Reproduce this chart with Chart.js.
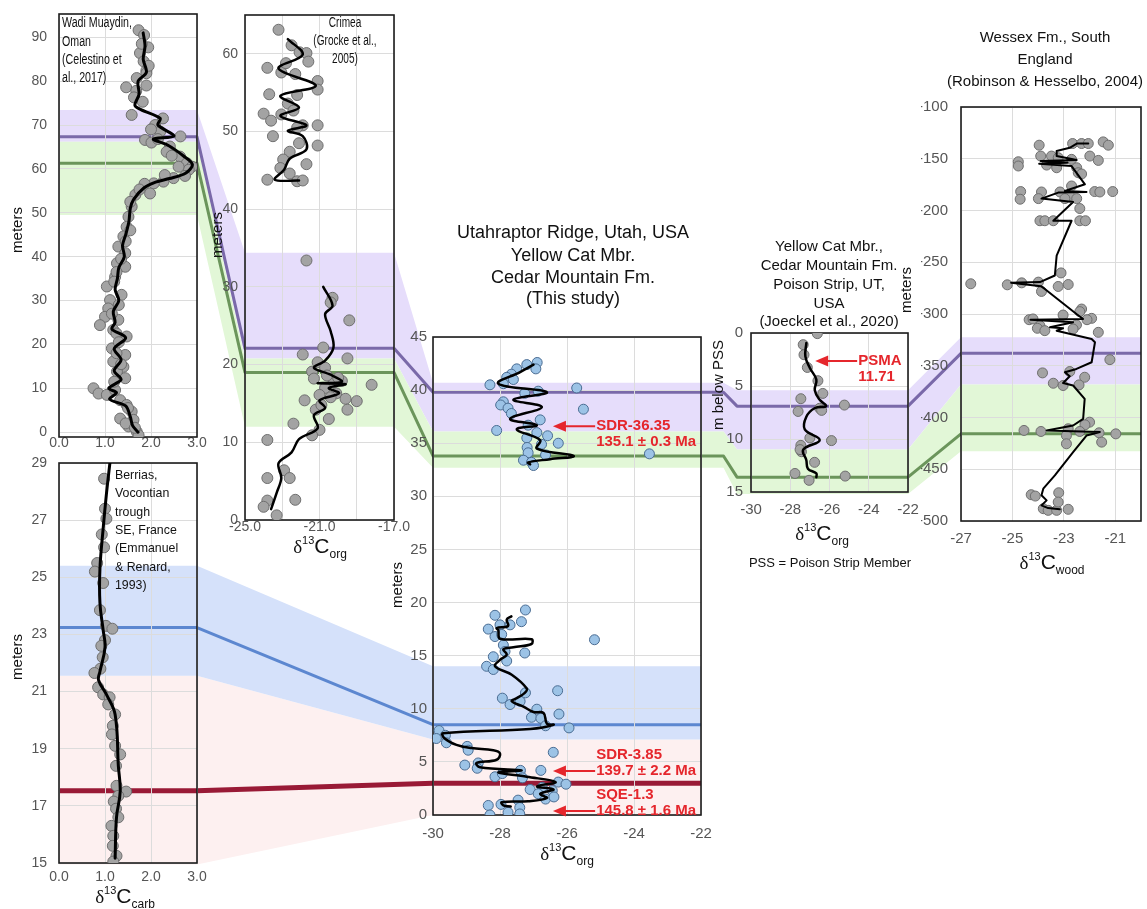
<!DOCTYPE html>
<html><head><meta charset="utf-8">
<script src="https://cdn.jsdelivr.net/npm/chart.js@4.4.1/dist/chart.umd.min.js"></script>
<style>
html,body{margin:0;padding:0;background:#fff;}
#wrap{position:relative;width:1147px;height:909px;overflow:hidden;background:#fff;}
#wrap canvas{position:absolute;left:0;top:0;}
</style></head><body><div id="wrap"></div>
<script>
// ================= DATA =================
// --- Wadi Muaydin, Oman (d13C carb vs meters) ---
const omanPoints = [[1.73,91.6],[1.85,90.5],[1.94,87.7],[1.76,86.4],[1.84,84.5],[1.90,82.4],[1.69,80.7],[1.90,81.8],[1.46,78.6],[1.68,77.8],[1.63,76.3],[1.82,75.3],[1.58,72.3],[2.26,71.5],[2.09,70.0],[2.20,68.5],[2.64,67.4],[1.87,66.6],[2.01,66.0],[2.41,65.1],[2.34,63.9],[2.63,62.8],[2.78,61.3],[2.89,60.5],[2.82,59.8],[2.74,58.4],[2.49,57.9],[2.27,57.1],[2.06,56.7],[1.86,56.6],[1.98,54.4],[1.66,54.1],[1.58,51.4],[1.51,49.1],[1.47,46.8],[1.40,44.6],[1.29,42.3],[1.44,40.8],[1.26,38.5],[1.44,37.7],[1.22,35.4],[1.04,33.2],[1.36,31.3],[1.11,30.1],[1.07,28.2],[1.00,26.3],[1.29,25.6],[0.89,24.4],[1.18,23.3],[1.47,21.8],[1.15,19.1],[1.44,17.6],[1.18,16.1],[1.40,14.9],[1.26,13.8],[1.44,12.3],[0.75,10.0],[0.86,8.8],[1.04,8.5],[1.22,9.6],[1.33,7.3],[1.47,6.2],[1.58,4.7],[1.33,3.1],[1.62,2.8],[1.51,1.3],[1.69,0.1],[1.73,-0.7],[1.55,46.0],[1.45,43.5],[1.35,39.5],[1.25,36.5],[1.2,34.3],[1.3,29.0],[1.15,27.0],[1.25,22.5],[1.3,20.5],[1.25,18.0],[1.35,15.5],[1.2,11.5],[1.5,5.5],[1.45,2.0],[1.65,1.0],[1.95,83.5],[1.8,88.5],[1.9,79.0],[2.45,63.0],[2.6,60.5],[2.3,58.6],[1.75,55.3],[1.55,52.5],[2.0,69.0],[2.15,66.8]];
const omanCurve = [[1.72,0],[1.6,1.5],[1.55,3.5],[1.45,6],[1.1,7.5],[1.25,9],[1.08,10],[1.35,12],[1.2,14],[1.35,16.5],[1.2,19],[1.45,21.5],[1.15,23.5],[1.22,25],[1.18,27.5],[1.3,30],[1.22,32.5],[1.27,35],[1.3,37.5],[1.42,40],[1.38,42.5],[1.45,45],[1.52,48],[1.55,51],[1.62,53],[1.85,55.7],[2.1,57],[2.4,57.8],[2.75,59],[2.9,61],[2.7,63],[2.35,65.5],[2.05,66.8],[2.5,67.5],[2.15,70],[2.2,71.5],[1.78,73.5],[1.65,74.5],[1.74,77],[1.72,80],[1.9,82],[1.83,85],[1.87,88],[1.83,91]];
const omanXTicks = [0,1,2,3];
const omanXLabels = ['0.0','1.0','2.0','3.0'];
const omanYTicks = [0,10,20,30,40,50,60,70,80,90];

// --- Crimea (d13C org) ---
const crimeaPoints = [[-23.2,63.1],[-22.5,61.1],[-22.07,60.2],[-21.7,60.1],[-23.8,58.2],[-23.05,57.6],[-22.3,57.4],[-21.1,56.5],[-21.1,55.4],[-23.7,54.8],[-22.2,54.7],[-22.7,53.6],[-22.4,52.7],[-24.0,52.3],[-23.05,52.2],[-23.6,51.4],[-21.9,50.8],[-21.1,50.8],[-22.2,50.5],[-23.5,49.4],[-22.1,48.5],[-21.1,48.2],[-22.6,47.4],[-22.95,46.4],[-21.7,45.8],[-23.1,45.3],[-22.6,44.6],[-23.8,43.8],[-22.2,43.6],[-21.9,43.7],[-22.8,58.8],[-21.6,59.0],[-21.7,33.4],[-20.3,28.6],[-20.4,28],[-19.4,25.7],[-20.8,22.2],[-21.9,21.3],[-19.5,20.8],[-21.1,20.3],[-20.7,19.6],[-21.4,19.1],[-19.8,17.9],[-18.2,17.4],[-20.25,17.7],[-20.7,17],[-20.1,16.3],[-19.0,15.3],[-19.6,15.6],[-21.0,16.1],[-21.8,15.4],[-19.5,14.2],[-21.2,14.2],[-20.5,13],[-22.4,12.4],[-21.0,11.6],[-21.4,10.9],[-23.8,10.3],[-22.9,6.4],[-23.8,5.4],[-22.6,5.4],[-22.3,2.6],[-23.8,2.5],[-24.0,1.7],[-23.3,0.6],[-20.6,18.6],[-20.0,18.3],[-21.3,18.2],[-20.9,14.8],[-20.4,15.8]];
const crimeaCurveLow = [[-23.6,1.4],[-23.3,3.5],[-23.05,5.4],[-23.2,7.3],[-22.5,8.7],[-22.1,10.4],[-21.1,11.8],[-21.3,13.5],[-20.7,14.4],[-21.0,15.4],[-19.95,16.3],[-20.5,17.0],[-19.6,17.5],[-21.1,17.6],[-19.8,17.8],[-20.4,18.7],[-21.3,19.6],[-20.7,20.5],[-20.25,22.2],[-20.4,24.3],[-20.7,26.5],[-20.3,27.6],[-20.8,30.0]];
const crimeaCurveHigh = [[-22.1,43.7],[-23.4,43.8],[-22.9,45.1],[-22.6,46.5],[-21.7,47.7],[-21.9,49.4],[-22.7,50.1],[-21.7,50.8],[-23.1,52.0],[-22.1,53.1],[-23.1,54.6],[-21.2,55.9],[-23.2,58.1],[-21.9,59.9],[-22.7,61.9]];
const crimeaXTicks = [-25,-23,-21,-19,-17];
const crimeaXLabels = ['-25.0','','-21.0','','-17.0'];
const crimeaYTicks = [0,10,20,30,40,50,60];

// --- Berrias, Vocontian trough (d13C carb) ---
const berriasPoints = [[0.98,28.45],[1.0,27.4],[1.03,27.05],[0.93,26.5],[0.98,26.05],[0.83,25.5],[0.78,25.2],[0.96,24.8],[0.89,23.85],[1.02,23.3],[1.16,23.2],[1.0,22.8],[0.92,22.6],[0.95,22.2],[0.9,21.8],[0.77,21.65],[0.85,21.15],[0.96,20.9],[1.1,20.8],[1.07,20.55],[1.22,20.2],[1.17,19.8],[1.15,19.5],[1.22,19.1],[1.33,18.8],[1.24,18.4],[1.25,17.7],[1.46,17.5],[1.29,17.35],[1.19,17.15],[1.24,16.9],[1.29,16.6],[1.14,16.3],[1.18,15.95],[1.17,15.6],[1.25,15.25],[1.18,15.05]];
const berriasCurve = [[1.22,15.17],[1.25,16.6],[1.33,17.5],[1.29,18.4],[1.22,20.2],[1.03,20.9],[0.86,21.4],[0.89,21.7],[1.0,22.55],[0.96,23.15],[0.89,24.1],[0.89,25.3],[0.96,26.7],[1.03,27.9],[1.11,29.05]];
const berriasXTicks = [0,1,2,3];
const berriasXLabels = ['0.0','1.0','2.0','3.0'];
const berriasYTicks = [15,17,19,21,23,25,27,29];

// --- Utahraptor Ridge (this study, d13C org) ---
const utahPoints = [[-26.89,42.6],[-27.2,42.4],[-26.93,42.0],[-27.5,42.0],[-27.66,41.5],[-27.8,41.2],[-27.6,41.0],[-27.9,40.6],[-28.3,40.5],[-25.71,40.2],[-27.26,39.7],[-26.86,39.9],[-27.9,38.9],[-27.98,38.6],[-27.76,38.3],[-25.51,38.2],[-27.66,37.8],[-26.8,37.2],[-27.16,36.7],[-28.1,36.2],[-26.9,36.0],[-26.58,35.7],[-27.2,35.5],[-26.26,35.0],[-26.76,34.9],[-27.19,34.6],[-27.16,34.1],[-26.64,33.9],[-23.54,34.0],[-27.3,33.4],[-27.06,33.2],[-27.0,32.9],
 [-27.24,19.3],[-28.15,18.8],[-27.36,18.2],[-28.0,17.9],[-27.7,17.9],[-28.35,17.5],[-28.15,16.8],[-27.95,17.0],[-25.18,16.5],[-27.9,16.0],[-27.85,15.4],[-27.26,15.25],[-28.2,14.9],[-27.8,14.5],[-28.4,14.0],[-28.2,13.7],[-26.28,11.7],[-27.24,11.5],[-27.93,11.0],[-27.4,10.7],[-27.7,10.4],[-26.9,9.96],[-26.24,9.5],[-27.06,9.2],[-26.78,9.1],[-26.64,8.4],[-25.94,8.2],[-29.82,7.95],[-29.63,7.5],[-29.9,7.2],[-29.6,6.8],[-28.98,6.46],[-28.95,6.1],[-26.41,5.9],[-29.05,4.7],[-28.65,4.9],[-28.68,4.4],[-26.78,4.2],[-27.39,4.2],[-28.15,3.6],[-27.93,3.9],[-27.33,3.5],[-26.26,3.1],[-26.03,2.9],[-27.1,2.4],[-26.74,2.6],[-26.86,2.0],[-26.44,2.3],[-26.64,1.5],[-26.39,1.7],[-27.46,1.4],[-27.97,1.0],[-28.35,0.9],[-27.41,0.7],[-27.76,0.25],[-27.41,0.1],[-28.3,0.0]];
const utahCurveUpper = [[-27.1,33.0],[-27.16,33.2],[-26.5,33.5],[-25.8,33.8],[-26.9,34.5],[-26.8,35.3],[-27.5,36.3],[-26.9,36.7],[-27.7,37.3],[-26.75,38.4],[-27.6,39.1],[-26.6,39.8],[-28.05,40.6],[-27.4,41.7],[-27.0,42.4]];
const utahCurveLower = [[-27.68,0.8],[-27.9,0.9],[-27.95,1.2],[-27.16,1.3],[-26.6,1.6],[-26.8,2.0],[-26.4,2.4],[-26.9,2.7],[-26.34,3.1],[-27.2,3.6],[-28.05,4.0],[-27.36,4.2],[-28.6,4.5],[-28.7,4.9],[-28.1,5.2],[-28.0,5.8],[-28.2,6.1],[-28.85,6.3],[-29.3,6.6],[-29.65,7.2],[-29.7,7.7],[-27.1,8.1],[-26.4,8.5],[-26.6,8.6],[-26.7,9.6],[-27.0,9.7],[-27.3,10.2],[-27.65,10.7],[-27.5,11.0],[-27.26,11.5],[-27.2,11.9],[-27.65,13.2],[-28.15,14.0],[-28.0,14.6],[-27.8,15.1],[-27.9,15.6],[-27.6,15.8],[-27.06,16.1],[-27.06,16.55],[-28.0,16.6],[-28.05,17.4],[-28.1,17.6],[-27.76,17.8],[-27.8,18.4],[-27.66,18.7]];
const utahXTicks = [-30,-28,-26,-24,-22];
const utahXLabels = ['-30','-28','-26','-24','-22'];
const utahYTicks = [0,5,10,15,20,25,30,35,40,45];
const utahNoteDepth = [36.6, 4.15, 0.38];
const utahNoteCode = ['SDR-36.35','SDR-3.85','SQE-1.3'];
const utahNoteAge = ['135.1 \u00b1 0.3 Ma','139.7 \u00b1 2.2 Ma','145.8 \u00b1 1.6 Ma'];
const utahNoteRow = [0,1,1];

// --- Poison Strip (m below PSS) ---
const poisonPoints = [[-26.62,0.06],[-27.34,1.1],[-27.3,2.05],[-27.13,3.25],[-26.59,4.5],[-26.34,5.7],[-27.46,6.2],[-25.24,6.8],[-26.5,7.1],[-27.6,7.4],[-27.0,9.9],[-25.9,10.15],[-27.46,10.6],[-27.43,11.2],[-26.76,12.2],[-27.76,13.25],[-25.2,13.5],[-27.04,13.9],[-26.4,7.3],[-27.5,11.0]];
const poisonCurve = [[-27.18,0.95],[-27.23,2.2],[-27.0,3.3],[-26.67,4.4],[-26.75,5.4],[-26.5,6.3],[-26.17,6.9],[-26.76,7.1],[-27.18,7.9],[-27.26,9.1],[-26.5,10.1],[-27.34,11.0],[-27.18,12.0],[-27.1,12.8],[-26.67,13.25],[-26.67,13.6]];
const poisonXTicks = [-30,-28,-26,-24,-22];
const poisonXLabels = ['-30','-28','-26','-24','-22'];
const poisonYTicks = [0,5,10,15];
const poisonNoteDepth = [2.64];
const poisonNoteCode = ['PSMA'];
const poisonNoteAge = ['11.71'];
const poisonNoteRow = [0];

// --- Wessex Fm. (d13C wood) ---
const wessexPoints = [[-23.96,-136.9],[-22.66,-135.3],[-22.31,-135.3],[-22.05,-135.3],[-21.47,-133.7],[-21.27,-136.9],[-23.9,-147.4],[-23.48,-147.4],[-23.22,-149],[-22.7,-150.6],[-21.99,-147.4],[-21.66,-151.6],[-24.77,-152.9],[-24.77,-157],[-23.67,-156.1],[-23.28,-158.7],[-22.5,-158.7],[-22.44,-163.5],[-22.31,-164.7],[-22.7,-176.3],[-24.68,-181.7],[-23.87,-182.1],[-23.15,-182.1],[-22.77,-185.9],[-21.8,-181.7],[-21.6,-182.1],[-21.1,-181.7],[-24.7,-189.1],[-23.99,-188.5],[-22.96,-188.5],[-22.5,-188.5],[-22.38,-198.1],[-23.93,-209.9],[-23.74,-209.9],[-23.41,-209.9],[-22.38,-209.9],[-22.16,-209.9],[-23.11,-260.3],[-26.62,-270.8],[-25.2,-271.8],[-24.64,-269.9],[-23.99,-269.2],[-22.83,-271.5],[-23.22,-273.4],[-23.87,-278.2],[-22.31,-295.2],[-22.38,-297.7],[-24.35,-305.5],[-24.2,-304.8],[-23.03,-301],[-21.92,-304.2],[-22.1,-305.5],[-23.93,-311.3],[-24.03,-313.8],[-23.74,-316.1],[-22.51,-310.6],[-22.64,-314.5],[-21.66,-317.7],[-21.21,-344.1],[-23.83,-356.9],[-22.77,-355.6],[-22.19,-361.1],[-23.41,-366.9],[-23.03,-369.1],[-22.41,-368.5],[-22.0,-404.5],[-22.18,-407.1],[-24.55,-412.5],[-23.89,-413.5],[-22.83,-410.9],[-22.38,-413.5],[-21.63,-414.8],[-20.98,-415.8],[-22.9,-417.4],[-21.53,-423.8],[-22.9,-425.4],[-24.27,-474.6],[-24.11,-475.9],[-23.2,-472.7],[-23.8,-488.1],[-23.61,-489.7],[-23.28,-489.7],[-22.83,-488.7],[-23.22,-481.7]];
const wessexCurve = [[-22.05,-135.3],[-22.5,-135.3],[-22.77,-139.4],[-23.28,-142.6],[-23.28,-147.4],[-22.5,-151.3],[-23.9,-152.2],[-22.86,-153.8],[-23.96,-154.8],[-22.7,-157.1],[-22.18,-174.7],[-22.96,-181.1],[-22.12,-182.1],[-23.22,-182.7],[-23.87,-188.5],[-22.64,-191.7],[-23.41,-209.9],[-22.7,-209.9],[-23.28,-243.6],[-23.35,-262.8],[-23.93,-269.2],[-25.05,-269.9],[-23.89,-273.1],[-23.74,-275.9],[-22.51,-300],[-22.25,-304.8],[-24.3,-305.5],[-22.64,-308],[-23.54,-312.9],[-23.03,-313.8],[-23.28,-316.1],[-21.92,-324.1],[-21.79,-327.3],[-21.92,-346.6],[-22.51,-353.1],[-22.96,-356.3],[-22.77,-360.1],[-23.03,-366.6],[-22.64,-369.1],[-22.19,-382],[-22.25,-401.3],[-22.64,-407.7],[-23.67,-412.5],[-21.6,-414.1],[-22.12,-417.4],[-22.64,-433.4],[-23.35,-456],[-23.8,-468.8],[-23.87,-475.2],[-23.67,-480.1],[-23.87,-484.9],[-23.61,-487.5],[-23.16,-488.7]];
const wessexXTicks = [-27,-25,-23,-21];
const wessexXLabels = ['-27','-25','-23','-21'];
const wessexYTicks = [-500,-450,-400,-350,-300,-250,-200,-150,-100];

// --- Correlation bands (depth in each section's own units) ---
const chainUpper = ['oman','crimea','utah','poison','wessex'];
const purpleTop    = [73.4, 34.4, 40.7, 5.4, -322.5];
const purpleBottom = [66.2, 20.8, 36.1, 11.0, -368];
const purpleLine   = [67.3, 22.1, 39.8, 6.9, -338];
const greenTop     = [66.2, 20.8, 36.1, 11.0, -368];
const greenBottom  = [49.5, 12.0, 32.7, 15.2, -432.5];
const greenLine    = [61.3, 19.0, 33.8, 13.6, -415.8];
const chainLower = ['berrias','utah'];
const blueTop    = [25.4, 14.0];
const blueBottom = [21.55, 7.1];
const blueLine   = [23.24, 8.5];
const redTop     = [21.55, 7.1];
const redBottom  = [14.95, 0];
const redLine    = [17.53, 3.0];

// ================= RENDERING =================
const W = 1147, H = 909;
const SANS = '"Liberation Sans", Arial, Helvetica, sans-serif';
const SERIF = '"Liberation Serif", "DejaVu Serif", serif';
const TICK = '#555555', GRID = '#dcdcdc', RED = '#e5262c';
Chart.defaults.font.family = SANS;

const wrap = document.getElementById('wrap');
function addCanvas(){ const c=document.createElement('canvas'); c.width=W; c.height=H; c.style.width=W+'px'; c.style.height=H+'px'; wrap.appendChild(c); return c; }
const toXY = arr => arr.map(p => ({x:p[0], y:p[1]}));

function drawBlock(ctx, b){
  ctx.save(); ctx.fillStyle = b.color || '#111'; ctx.font = b.font;
  ctx.textBaseline = 'middle'; ctx.textAlign = b.align || 'center';
  if (b.rot){ ctx.translate(b.x, b.ys[0]); ctx.rotate(-Math.PI/2); ctx.fillText(b.lines[0], 0, 0); }
  else {
    const sx = b.sx || 1;
    b.lines.forEach((t,i)=>{ ctx.save(); ctx.translate(b.x, b.ys[i]); ctx.scale(sx,1); ctx.fillText(t, 0, 0); ctx.restore(); });
  }
  ctx.restore();
}
function drawDelta(ctx, cx, by, sub){
  const parts = [
    {t:'\u03b4', f:'19px '+SERIF, dy:0},
    {t:'13', f:'11px '+SANS, dy:-9},
    {t:'C', f:'21px '+SANS, dy:0},
    {t:sub, f:'12px '+SANS, dy:5}
  ];
  let w = 0; parts.forEach(p=>{ ctx.font=p.f; p.w=ctx.measureText(p.t).width; w+=p.w; });
  let x = cx - w/2;
  ctx.save(); ctx.fillStyle='#111'; ctx.textAlign='left'; ctx.textBaseline='alphabetic';
  parts.forEach(p=>{ ctx.font=p.f; ctx.fillText(p.t, x, by+p.dy); x+=p.w; });
  ctx.restore();
}
function drawNotes(chart, n){
  const ctx = chart.ctx, xs = chart.scales.x, ys = chart.scales.y;
  ctx.save();
  n.depth.forEach((d,i)=>{
    const y = ys.getPixelForValue(d);
    const xh = xs.getPixelForValue(n.head), xt = xs.getPixelForValue(n.textAt);
    ctx.strokeStyle = RED; ctx.fillStyle = RED; ctx.lineWidth = 2;
    ctx.beginPath(); ctx.moveTo(xt, y); ctx.lineTo(xh+10, y); ctx.stroke();
    ctx.beginPath(); ctx.moveTo(xh, y); ctx.lineTo(xh+13, y-5.5); ctx.lineTo(xh+13, y+5.5); ctx.closePath(); ctx.fill();
    const y0 = y - n.row[i]*16;
    ctx.font = 'bold 15px '+SANS; ctx.textAlign='left'; ctx.textBaseline='middle';
    ctx.fillText(n.code[i], xt+1, y0);
    ctx.fillText(n.age[i], xt+1, y0+16);
  });
  ctx.restore();
}

const panels = {};
const bandCanvas = addCanvas();

function makePanel(name, s){
  const cv = addCanvas();
  const yW = 40, xH = 30;
  const ds = [];
  s.curves.forEach(c=>ds.push({data:toXY(c), showLine:true, fill:false, borderColor:'#000', borderWidth:s.lw, pointRadius:0, pointHoverRadius:0, tension:s.tension, borderJoinStyle:'round', borderCapStyle:'round'}));
  ds.push({data:toXY(s.points), showLine:false, pointRadius:s.pr, pointHoverRadius:s.pr, backgroundColor:s.pc, borderColor:s.pb, borderWidth:1});
  const tf = {family:SANS, size:s.tf};
  panels[name] = new Chart(cv, {
    type:'scatter',
    data:{datasets:ds},
    options:{
      responsive:false, animation:false, events:[],
      layout:{padding:{left:s.l-yW, top:s.t, right:W-s.r, bottom:H-s.b-xH}},
      plugins:{legend:{display:false}, tooltip:{enabled:false}},
      scales:{
        x:{type:'linear', position:'bottom', min:s.xr[0], max:s.xr[1],
          afterBuildTicks: ax=>{ ax.ticks = s.xt.map(v=>({value:v})); },
          afterFit: ax=>{ ax.height = xH; ax.paddingLeft = 0; ax.paddingRight = 0; },
          ticks:{autoSkip:false, maxRotation:0, minRotation:0, padding:s.xp, color:TICK, font:tf, callback:(v,i)=>s.xl[i]},
          grid:{color:GRID, lineWidth:1, drawTicks:false}, border:{display:false}},
        y:{type:'linear', position:'left', min:s.yr[0], max:s.yr[1], reverse:!!s.rev,
          afterBuildTicks: ax=>{ ax.ticks = s.yt.map(v=>({value:v})); },
          afterFit: ax=>{ ax.width = yW; ax.paddingTop = 0; ax.paddingBottom = 0; },
          ticks:{autoSkip:false, padding:s.yp, color:TICK, font:tf, callback:(v)=>String(v)},
          grid:{color:GRID, lineWidth:1, drawTicks:false}, border:{display:false}}
      }
    },
    plugins:[{
      id:'deco',
      beforeDatasetsDraw(c){
        const a=c.chartArea, ctx=c.ctx; ctx.save(); ctx.strokeStyle='#1c1c1c'; ctx.lineWidth=1.6;
        ctx.strokeRect(a.left, a.top, a.right-a.left, a.bottom-a.top); ctx.restore();
      },
      afterDraw(c){
        const ctx=c.ctx;
        (s.texts||[]).forEach(b=>drawBlock(ctx,b));
        if (s.delta) drawDelta(ctx, s.delta[0], s.delta[1], s.delta[2]);
        if (s.notes) drawNotes(c, s.notes);
      }
    }]
  });
}

makePanel('oman', {l:59,t:14,r:197,b:437, xr:[0,3], yr:[-1.1,95.3], xt:omanXTicks, xl:omanXLabels, yt:omanYTicks,
  xp:-2, yp:12, tf:14, curves:[omanCurve], points:omanPoints, lw:3, tension:0.3, pr:5.5, pc:'#a3a3a3', pb:'#6e6e6e',
  texts:[{lines:['Wadi Muaydin,','Oman','(Celestino et','al., 2017)'], x:62, ys:[23,42,60,78], font:'14px '+SANS, align:'left', sx:0.76},
         {lines:['meters'], x:18, ys:[230], font:'15px '+SANS, rot:true}]});
makePanel('crimea', {l:245,t:15,r:394,b:520, xr:[-25,-17], yr:[0,65], xt:crimeaXTicks, xl:crimeaXLabels, yt:crimeaYTicks,
  xp:-1, yp:7, tf:14, curves:[crimeaCurveLow, crimeaCurveHigh], points:crimeaPoints, lw:2.5, tension:0.35, pr:5.5, pc:'#a3a3a3', pb:'#6e6e6e',
  texts:[{lines:['Crimea','(Grocke et al.,','2005)'], x:345, ys:[23,41,59], font:'14px '+SANS, sx:0.72},
         {lines:['meters'], x:218, ys:[235], font:'15px '+SANS, rot:true}],
  delta:[320, 553, 'org']});
makePanel('berrias', {l:59,t:463,r:197,b:863, xr:[0,3], yr:[15,29], xt:berriasXTicks, xl:berriasXLabels, yt:berriasYTicks,
  xp:5.5, yp:12, tf:14, curves:[berriasCurve], points:berriasPoints, lw:3, tension:0.4, pr:5.5, pc:'#a3a3a3', pb:'#6e6e6e',
  texts:[{lines:['Berrias,','Vocontian','trough','SE, France','(Emmanuel','& Renard,','1993)'], x:115, ys:[475,493,512,530,548,567,585], font:'13px '+SANS, align:'left', sx:0.95},
         {lines:['meters'], x:18, ys:[657], font:'15px '+SANS, rot:true}],
  delta:[125, 903, 'carb']});
makePanel('utah', {l:433,t:337,r:701,b:815, xr:[-30,-22], yr:[0,45], xt:utahXTicks, xl:utahXLabels, yt:utahYTicks,
  xp:10, yp:6, tf:15, curves:[utahCurveUpper, utahCurveLower], points:utahPoints, lw:2.5, tension:0.4, pr:5, pc:'#9cc3e6', pb:'#4a6c92',
  texts:[{lines:['Utahraptor Ridge, Utah, USA','Yellow Cat Mbr.','Cedar Mountain Fm.','(This study)'], x:573, ys:[233,256,278,299], font:'18px '+SANS},
         {lines:['meters'], x:398, ys:[585], font:'15px '+SANS, rot:true}],
  delta:[567, 860, 'org'],
  notes:{depth:utahNoteDepth, code:utahNoteCode, age:utahNoteAge, row:utahNoteRow, head:-26.42, textAt:-25.16}});
makePanel('poison', {l:751,t:333,r:908,b:492, xr:[-30,-22], yr:[0,15], rev:true, xt:poisonXTicks, xl:poisonXLabels, yt:poisonYTicks,
  xp:9, yp:8, tf:15, curves:[poisonCurve], points:poisonPoints, lw:2.5, tension:0.4, pr:5, pc:'#a3a3a3', pb:'#6e6e6e',
  texts:[{lines:['Yellow Cat Mbr.,','Cedar Mountain Fm.','Poison Strip, UT,','USA','(Joeckel et al., 2020)'], x:829, ys:[247,266,285,304,322], font:'15px '+SANS},
         {lines:['m below PSS'], x:719, ys:[385], font:'15px '+SANS, rot:true},
         {lines:['PSS = Poison Strip Member'], x:830, ys:[563], font:'13px '+SANS}],
  delta:[822, 540, 'org'],
  notes:{depth:poisonNoteDepth, code:poisonNoteCode, age:poisonNoteAge, row:poisonNoteRow, head:-26.73, textAt:-24.59}});
makePanel('wessex', {l:961,t:107,r:1141,b:521, xr:[-27,-20], yr:[-500,-100], xt:wessexXTicks, xl:wessexXLabels, yt:wessexYTicks,
  xp:9, yp:13, tf:15, curves:[wessexCurve], points:wessexPoints, lw:2, tension:0, pr:5, pc:'#a3a3a3', pb:'#6e6e6e',
  texts:[{lines:['Wessex Fm., South','England','(Robinson & Hesselbo, 2004)'], x:1045, ys:[38,60,82], font:'15px '+SANS},
         {lines:['meters'], x:907, ys:[290], font:'15px '+SANS, rot:true}],
  delta:[1052, 569, 'wood']});

// ---- correlation bands drawn through each panel's own y scale ----
const gapsUpper = [[0,1],[0,1],[0.45,0.72],[0,1]];
const gapsLower = [[0,1]];
function chainPts(names, vals, gaps){
  const out = [];
  names.forEach((n,i)=>{
    const c = panels[n], a = c.chartArea, y = c.scales.y.getPixelForValue(vals[i]);
    if (i>0){
      const pa = panels[names[i-1]].chartArea, g = gaps[i-1], py = out[out.length-1][1];
      out.push([pa.right + (a.left-pa.right)*g[0], py]);
      out.push([pa.right + (a.left-pa.right)*g[1], y]);
    }
    out.push([a.left, y],[a.right, y]);
  });
  return out;
}
function fillBand(ctx, names, top, bot, gaps, color){
  const t = chainPts(names, top, gaps), b = chainPts(names, bot, gaps).reverse();
  ctx.beginPath(); t.concat(b).forEach((p,i)=> i ? ctx.lineTo(p[0],p[1]) : ctx.moveTo(p[0],p[1]));
  ctx.closePath(); ctx.fillStyle = color; ctx.fill();
}
function strokeLine(ctx, names, vals, gaps, color, w){
  const p = chainPts(names, vals, gaps);
  ctx.beginPath(); p.forEach((q,i)=> i ? ctx.lineTo(q[0],q[1]) : ctx.moveTo(q[0],q[1]));
  ctx.strokeStyle = color; ctx.lineWidth = w; ctx.lineJoin='round'; ctx.stroke();
}
new Chart(bandCanvas, {
  type:'scatter', data:{datasets:[]},
  options:{responsive:false, animation:false, events:[], plugins:{legend:{display:false}, tooltip:{enabled:false}},
    scales:{x:{display:false}, y:{display:false}}},
  plugins:[{id:'bands', afterDraw(c){
    const ctx = c.ctx; ctx.save();
    fillBand(ctx, chainLower, redTop, redBottom, gapsLower, '#fdf0f0');
    fillBand(ctx, chainLower, blueTop, blueBottom, gapsLower, '#d5e1fa');
    fillBand(ctx, chainUpper, purpleTop, purpleBottom, gapsUpper, '#e6ddfb');
    fillBand(ctx, chainUpper, greenTop, greenBottom, gapsUpper, '#e2f7d7');
    strokeLine(ctx, chainUpper, purpleLine, gapsUpper, '#7a69a9', 3);
    strokeLine(ctx, chainUpper, greenLine, gapsUpper, '#6b955b', 3);
    strokeLine(ctx, chainLower, blueLine, gapsLower, '#5c87d0', 3);
    strokeLine(ctx, chainLower, redLine, gapsLower, '#991a36', 5);
    ctx.restore();
  }}]
});
</script>
</body></html>
